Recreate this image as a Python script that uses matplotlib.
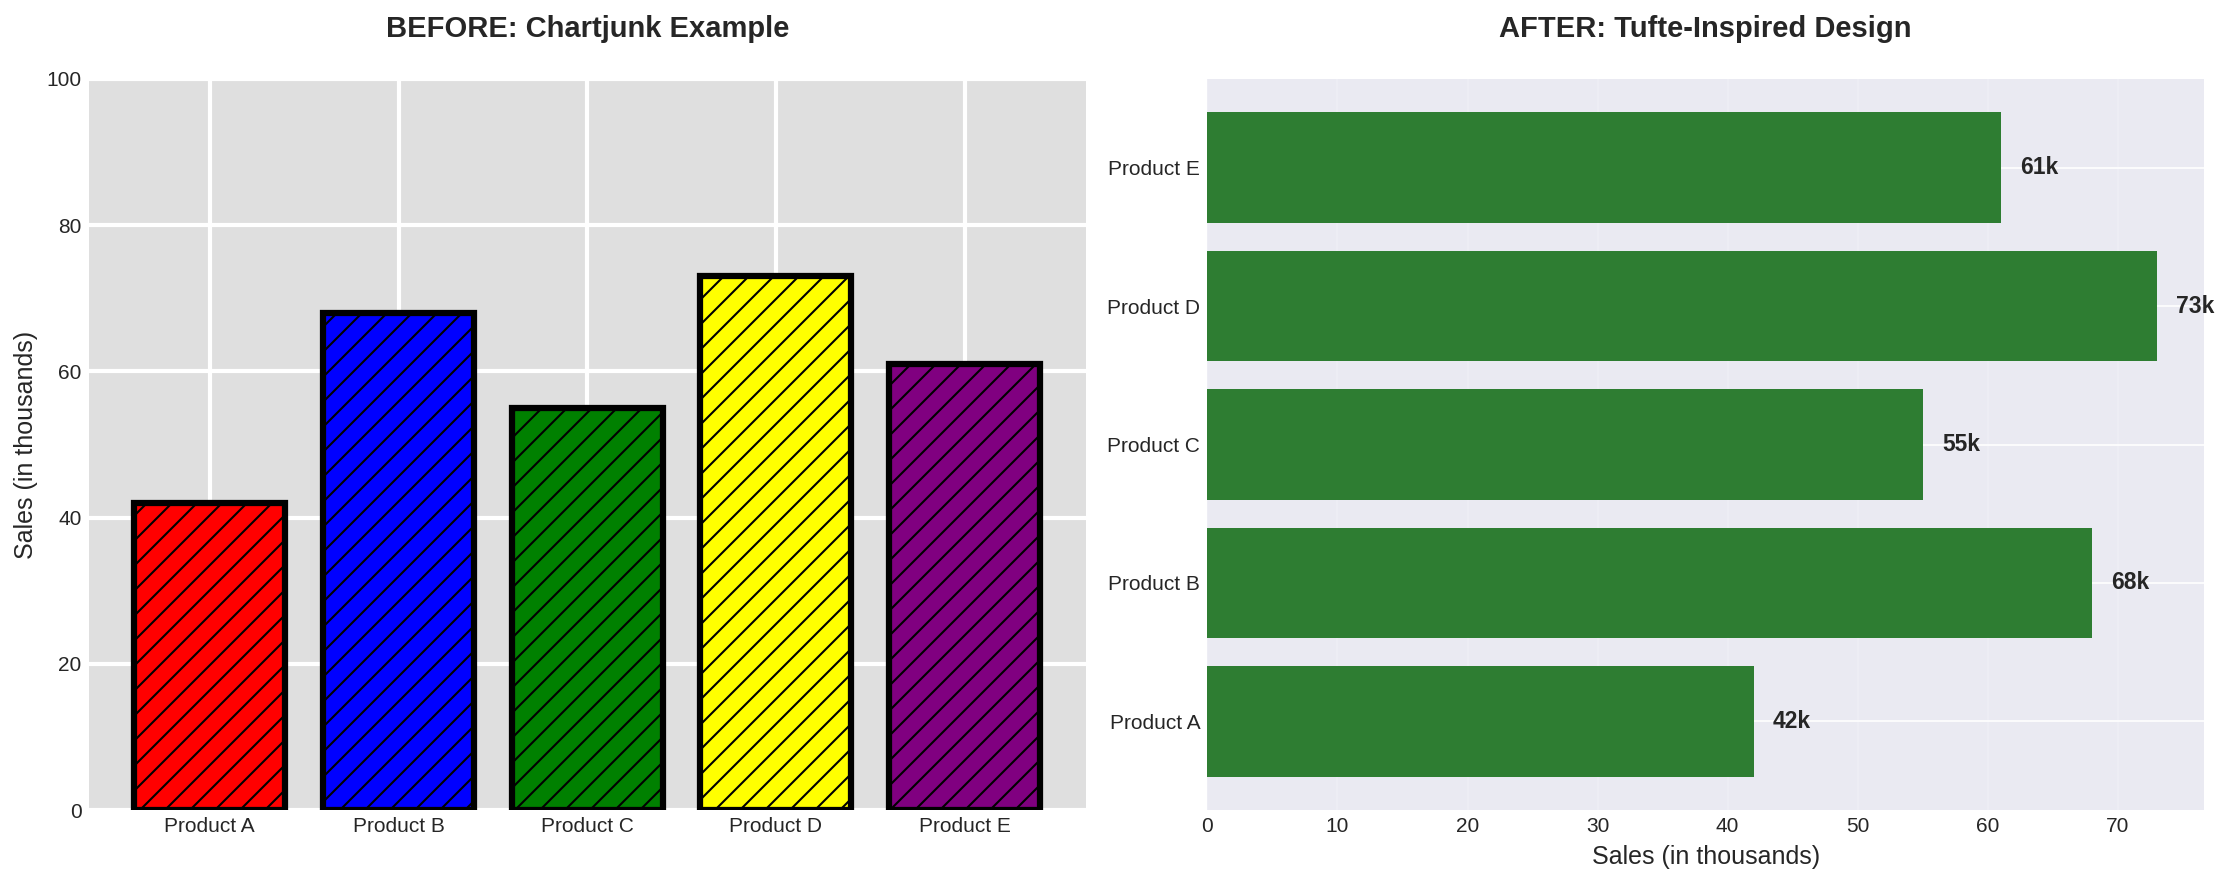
import matplotlib
matplotlib.use("Agg")
import matplotlib.pyplot as plt

plt.style.use('seaborn-v0_8-darkgrid')
plt.rcParams['font.family'] = ['Liberation Sans', 'DejaVu Sans']

products = ['Product A', 'Product B', 'Product C', 'Product D', 'Product E']
sales = [42, 68, 55, 73, 61]
junk_colors = ['red', 'blue', 'green', 'yellow', 'purple']
value_labels = ['42k', '68k', '55k', '73k', '61k']

W, H, DPI = 2229, 884, 150
fig, (ax1, ax2) = plt.subplots(1, 2, figsize=(W / DPI, H / DPI), dpi=DPI)
fig.subplots_adjust(left=89 / W, right=2204 / W, bottom=1 - 810 / H, top=1 - 79 / H,
                    wspace=0.1224)

# BEFORE
ax1.set_facecolor('#DFDFDF')
ax1.bar(products, sales, color=junk_colors, edgecolor='black', linewidth=3, hatch='//')
ax1.set_ylim(0, 100)
ax1.grid(True, color='white', linewidth=2)
ax1.set_ylabel('Sales (in thousands)', fontsize=12)
ax1.set_title('BEFORE: Chartjunk Example', fontsize=14, fontweight='bold', pad=20)

# AFTER
ax2.barh(products, sales, color='#2E7D32')
ax2.grid(axis='x', alpha=0.2)
for i, (v, lab) in enumerate(zip(sales, value_labels)):
    ax2.text(v + 1.5, i, lab, va='center', ha='left', fontsize=11, fontweight='bold')
ax2.set_xlabel('Sales (in thousands)', fontsize=12)
ax2.set_title('AFTER: Tufte-Inspired Design', fontsize=14, fontweight='bold', pad=20)

fig.savefig('out.png', dpi=DPI)
